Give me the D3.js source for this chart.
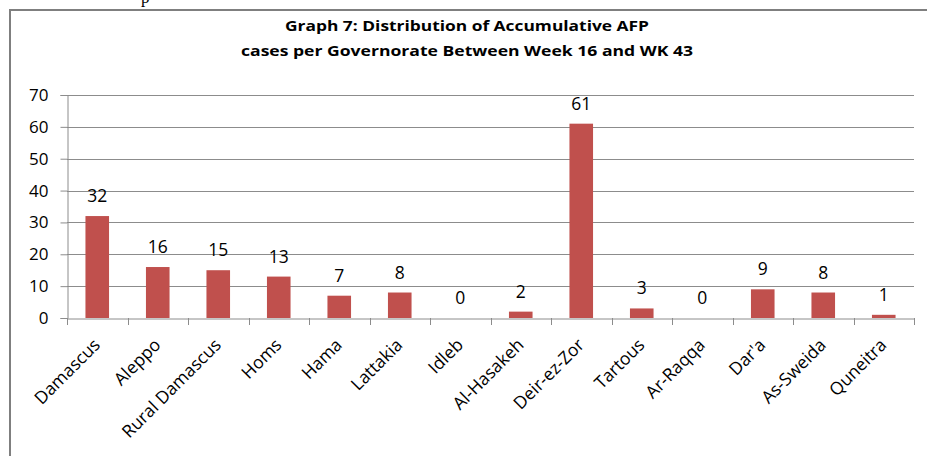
<!DOCTYPE html>
<html>
<head>
<meta charset="utf-8">
<script src="https://cdn.jsdelivr.net/npm/d3@7"></script>
<style>
  html, body { margin: 0; padding: 0; background: #ffffff; }
  svg { display: block; }
</style>
</head>
<body>
<svg id="chart" width="927" height="456"></svg>
<script>
const categories = ["Damascus", "Aleppo", "Rural Damascus", "Homs", "Hama", "Lattakia", "Idleb",
  "Al-Hasakeh", "Deir-ez-Zor", "Tartous", "Ar-Raqqa", "Dar'a", "As-Sweida", "Quneitra"];
const cases = [32, 16, 15, 13, 7, 8, 0, 2, 61, 3, 0, 9, 8, 1];
const yTicks = [0, 10, 20, 30, 40, 50, 60, 70];
const titleLines = ["Graph 7: Distribution  of Accumulative AFP", "cases per Governorate  Between Week 16  and WK 43"];

const svg = d3.select("#chart");
const W = 927, H = 456;
const margin = { left: 67, right: W - 914, top: 95, bottom: H - 318 };
const font = "'Open Sans', 'Liberation Sans', sans-serif";

// frame (partial, as in the cropped reference)
svg.append("text").attr("x", 141).attr("y", 3)
  .attr("font-family", "'Liberation Serif', serif").attr("font-size", 17)
  .attr("fill", "#000").text("p");
svg.append("path")
  .attr("d", `M10,${H} L10,10 L${W},10`)
  .attr("fill", "none").attr("stroke", "#7f7f7f").attr("stroke-width", 2);

const x = d3.scaleBand().domain(categories).range([margin.left, W - margin.right]).paddingInner(0).paddingOuter(0);
const y = d3.scaleLinear().domain([0, 70]).range([H - margin.bottom, margin.top]);

// title
const titleWidths = [364, 452];
titleLines.forEach((t, i) => {
  svg.append("text").attr("x", 467).attr("y", 31 + i * 25)
    .attr("text-anchor", "middle")
    .attr("font-family", font).attr("font-weight", "bold").attr("font-size", 15)
    .attr("textLength", titleWidths[i]).attr("lengthAdjust", "spacingAndGlyphs")
    .attr("fill", "#000").text(t);
});

// gridlines
svg.append("g").selectAll("line").data(yTicks.filter(d => d > 0)).join("line")
  .attr("x1", margin.left).attr("x2", W - margin.right)
  .attr("y1", d => Math.round(y(d)) + 0.5).attr("y2", d => Math.round(y(d)) + 0.5)
  .attr("stroke", "#8c8c8c").attr("stroke-width", 1);

// y axis
const yAxis = svg.append("g").attr("transform", `translate(${margin.left + 0.5},0)`)
  .call(d3.axisLeft(y).tickValues(yTicks).tickSize(7).tickPadding(12));
yAxis.select(".domain").attr("stroke", "#8c8c8c");
yAxis.selectAll(".tick line").attr("stroke", "#8c8c8c");
yAxis.selectAll(".tick text").attr("font-family", font).attr("font-size", 17).attr("fill", "#000");

// bars
const barW = x.bandwidth() * 0.39;
svg.append("g").selectAll("rect").data(cases).join("rect")
  .attr("x", (d, i) => x(categories[i]) + (x.bandwidth() - barW) / 2)
  .attr("width", barW)
  .attr("y", d => y(d))
  .attr("height", d => y(0) - y(d))
  .attr("fill", "#c0504d");

// x axis
const xAxis = svg.append("g").attr("transform", `translate(0,${Math.round(y(0)) + 0.5})`)
  .call(d3.axisBottom(x).tickSize(0).tickFormat(""));
xAxis.select(".domain").attr("stroke", "#8c8c8c");
svg.append("g").selectAll("line").data(d3.range(categories.length + 1)).join("line")
  .attr("x1", i => Math.round(margin.left + i * x.step()) + 0.5)
  .attr("x2", i => Math.round(margin.left + i * x.step()) + 0.5)
  .attr("y1", Math.round(y(0))).attr("y2", Math.round(y(0)) + 7)
  .attr("stroke", "#8c8c8c");

// category labels
svg.append("g").selectAll("text").data(categories).join("text")
  .attr("transform", d => `translate(${x(d) + x.bandwidth() / 2 + 4},${y(0) + 28}) rotate(-45)`)
  .attr("text-anchor", "end")
  .attr("font-family", font).attr("font-size", 17.5).attr("fill", "#000")
  .text(d => d);

// data labels
svg.append("g").selectAll("text").data(cases).join("text")
  .attr("x", (d, i) => x(categories[i]) + x.bandwidth() / 2)
  .attr("y", d => y(d) - 14)
  .attr("text-anchor", "middle")
  .attr("font-family", font).attr("font-size", 17.5).attr("fill", "#000")
  .text(d => d);
</script>
</body>
</html>
